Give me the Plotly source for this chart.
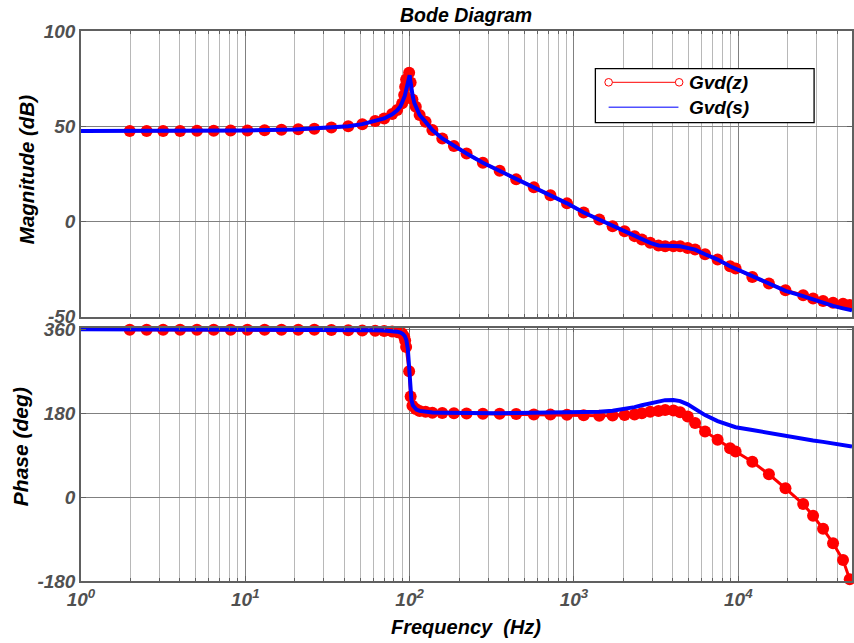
import plotly.graph_objects as go

# ---- Gvd(z): discrete-time model, frequency response samples ----
freq_z = [1.98, 2.51, 3.16, 4.01, 5.08, 6.42, 8.14, 10.3, 13.1, 16.6, 21.0,
          26.3, 33.4, 42.3, 51.5, 61.7, 70.0, 78.3, 84.0, 90.0, 92.6, 93.9,
          95.2, 99.3, 101.4, 104, 109, 115, 125, 137.5, 158, 186, 222, 279,
          353, 445, 570, 719, 907, 1146, 1426, 1718, 2032, 2337, 2589, 2911,
          3268, 3589, 4030, 4426, 4922, 5458, 6276, 7485, 8906, 9630, 12170,
          15360, 19370, 24820, 28520, 32810, 37730, 43390, 47660]
mag_z = [47.5, 47.5, 47.5, 47.5, 47.6, 47.6, 47.7, 47.8, 47.9, 48.1, 48.4,
         48.7, 49.3, 50.0, 51.1, 52.7, 54.1, 56.4, 58.5, 62.0, 66.4, 70.7,
         74.6, 78.1, 73.0, 64.1, 60.2, 55.9, 52.3, 48.0, 43.6, 39.6, 35.7, 30.8,
         26.6, 22.1, 17.9, 13.8, 9.5, 4.7, 1.0, -2.5, -5.1, -7.7, -9.5, -11.2,
         -12.6, -13.0, -13.0, -13.0, -13.9, -14.7, -17.2, -20.0, -23.5, -24.7, -29.1,
         -32.6, -36.1, -38.7, -40.4, -41.7, -42.7, -43.2, -43.8]
phase_z = [359, 359, 359, 359, 359, 359, 359, 359, 359, 359, 359,
           359, 358.5, 358, 357.5, 357, 356.5, 355.5, 354, 351, 344, 336,
           322, 270, 216, 196, 189, 185, 183, 181, 180.5, 180, 179.5, 179,
           179, 178.5, 177.5, 177, 176.5, 175.5, 174.5, 175, 176, 177.5, 180, 183,
           185, 187, 186, 182, 173, 159, 141, 123, 105, 98, 76,
           49, 19, -15, -40, -68, -99, -135, -176]

# ---- Gvd(s): continuous-time model ----
freq_s = [1, 2, 5, 10, 20, 30, 42.3, 51.5, 61.7, 70, 78.3, 84, 88, 91, 93.5,
          95.5, 97.5, 99, 100, 101, 102.5, 104.5, 107, 110, 115, 125, 137.5,
          158, 186, 222, 279, 353, 445, 570, 719, 907, 1146, 1426, 1718, 2032,
          2337, 2589, 2911, 3268, 3589, 4030, 4426, 4922, 5458, 6276, 7485,
          8906, 9630, 12170, 15360, 19370, 24820, 28520, 32810, 37730, 43390,
          49200]
mag_s = [47.5, 47.5, 47.6, 47.8, 48.3, 49.0, 50.0, 51.1, 52.7, 54.1, 56.3,
         58.4, 60.5, 63.0, 66.0, 69.5, 73.5, 76.5, 76.8, 74.0, 69.5, 65.5,
         62.0, 59.3, 55.9, 52.3, 48.0, 43.6, 39.6, 35.7, 30.8, 26.6, 22.1,
         17.9, 13.8, 9.5, 4.7, 1.0, -2.5, -5.1, -7.7, -9.5, -11.2, -12.6,
         -12.9, -12.9, -13.0, -13.9, -14.8, -17.2, -20.0, -23.5, -24.8, -29.2,
         -33.0, -36.4, -39.2, -41.0, -42.7, -44.3, -45.6, -46.7]
phase_s = [360, 360, 359.9, 359.8, 359.6, 359.3, 359, 358.7, 358.2, 357.5,
           356.5, 355, 353, 350, 345, 337, 318, 285, 262, 232, 209, 197, 191,
           188, 185, 183, 181.5, 181, 180.5, 180.3, 180.2, 180.2, 180.3, 180.5,
           180.8, 181, 181.8, 183, 185.5, 189, 193, 197, 201.5, 205.5, 208,
           208.5, 206, 199, 189, 176, 163, 153.5, 150, 144, 137.5, 131, 124,
           121.5, 118.5, 115, 111.5, 108.6]

mag_ticks = [-50, 0, 50, 100]
mag_ticktext = ["-50", "0", "50", "100"]
phase_ticks = [-180, 0, 180, 360]
phase_ticktext = ["-180", "0", "180", "360"]
freq_ticks = [1, 10, 100, 1000, 10000]
freq_ticktext = ["10<sup>0</sup>", "10<sup>1</sup>", "10<sup>2</sup>",
                 "10<sup>3</sup>", "10<sup>4</sup>"]

W, H = 854, 643
ML, MR, MT, MB = 81, 0, 31, 62
PW, PH = W - ML - MR, H - MT - MB


def px(x):
    return (x - ML) / PW


def py(y):
    return (H - MB - y) / PH


RED = "#ff0000"
BLUE = "#0000ff"
TICK_GRAY = "#505050"
AX_GRAY = "#606060"
FONT = "Liberation Sans"

fig = go.Figure()

# magnitude panel
fig.add_trace(go.Scatter(x=freq_z, y=mag_z, mode="lines+markers",
                         line=dict(color=RED, width=3),
                         marker=dict(color=RED, size=12, line=dict(width=0)),
                         cliponaxis=False, xaxis="x2", yaxis="y2",
                         showlegend=False))
fig.add_trace(go.Scatter(x=freq_s, y=mag_s, mode="lines",
                         line=dict(color=BLUE, width=4),
                         xaxis="x2", yaxis="y2", showlegend=False))
# phase panel
fig.add_trace(go.Scatter(x=freq_z, y=phase_z, mode="lines+markers",
                         line=dict(color=RED, width=3),
                         marker=dict(color=RED, size=12, line=dict(width=0)),
                         cliponaxis=False, xaxis="x", yaxis="y",
                         showlegend=False))
fig.add_trace(go.Scatter(x=freq_s, y=phase_s, mode="lines",
                         line=dict(color=BLUE, width=4),
                         xaxis="x", yaxis="y", showlegend=False))

tickfont = dict(family=FONT, size=19, color=TICK_GRAY, weight="bold", style="italic")
titlefont = dict(family=FONT, size=20, color="black", weight="bold", style="italic")
legfont = dict(family=FONT, size=19, color="black", weight="bold", style="italic")

xcommon = dict(type="log", range=[0, 4.692], showgrid=True, gridcolor="#808080",
               gridwidth=1, ticks="inside", ticklen=5, tickcolor=AX_GRAY,
               showline=True, linecolor=AX_GRAY, linewidth=1.5, mirror="ticks",
               zeroline=False, tickvals=freq_ticks, ticktext=freq_ticktext,
               minor=dict(dtick="D1", showgrid=True, gridcolor="#b8b8b8",
                          gridwidth=1, ticks="inside", ticklen=3, tickcolor=AX_GRAY))
ycommon = dict(showgrid=True, gridcolor="#808080", gridwidth=1, ticks="inside",
               ticklen=5, tickcolor=AX_GRAY, showline=True, linecolor=AX_GRAY,
               linewidth=1.5, mirror="ticks", zeroline=False, tickfont=tickfont)

top_lo = py(316.7)
bot_hi = py(327.7)


def label(text, x, y, font, angle=0, xanchor="center"):
    return dict(text=text, x=px(x), y=py(y), xref="paper", yref="paper",
                showarrow=False, textangle=angle, font=font,
                xanchor=xanchor, yanchor="middle")


fig.update_layout(
    width=W, height=H,
    margin=dict(l=ML, r=MR, t=MT, b=MB, pad=0),
    paper_bgcolor="white", plot_bgcolor="white",
    xaxis=dict(xcommon, anchor="y", tickfont=tickfont),
    xaxis2=dict(xcommon, anchor="y2", matches="x", showticklabels=False),
    yaxis=dict(ycommon, domain=[0, bot_hi], range=[-180, 363.5],
               tickvals=phase_ticks, ticktext=phase_ticktext),
    yaxis2=dict(ycommon, domain=[top_lo, 1], range=[-50, 100],
                tickvals=mag_ticks, ticktext=mag_ticktext),
    annotations=[
        label("Bode Diagram", 467, 15, dict(titlefont, size=19.5)),
        label("Magnitude (dB)", 27, 170, dict(titlefont, size=20.5), angle=-90),
        label("Phase (deg)", 20, 447, dict(titlefont, size=21), angle=-90),
        label("Frequency  (Hz)", 467, 627, titlefont),
        label("Gvd(z)", 689, 82.5, legfont, xanchor="left"),
        label("Gvd(s)", 689, 107.5, legfont, xanchor="left"),
    ],
    shapes=[
        # legend box
        dict(type="rect", xref="paper", yref="paper", x0=px(596.7), x1=px(816),
             y0=py(122.7), y1=py(68.7), line=dict(color="black", width=1.3),
             fillcolor="white", layer="above"),
        dict(type="line", xref="paper", yref="paper", x0=px(610), x1=px(680.7),
             y0=py(82.3), y1=py(82.3), line=dict(color=RED, width=1), layer="above"),
        dict(type="circle", xref="paper", yref="paper", x0=px(606.2), x1=px(613.8),
             y0=py(86.1), y1=py(78.5), line=dict(color=RED, width=1),
             fillcolor="white", layer="above"),
        dict(type="circle", xref="paper", yref="paper", x0=px(676.9), x1=px(684.5),
             y0=py(86.1), y1=py(78.5), line=dict(color=RED, width=1),
             fillcolor="white", layer="above"),
        dict(type="line", xref="paper", yref="paper", x0=px(610), x1=px(680),
             y0=py(107.3), y1=py(107.3), line=dict(color="#5050ff", width=1.5),
             layer="above"),
    ],
)

fig.write_html("out.html")
